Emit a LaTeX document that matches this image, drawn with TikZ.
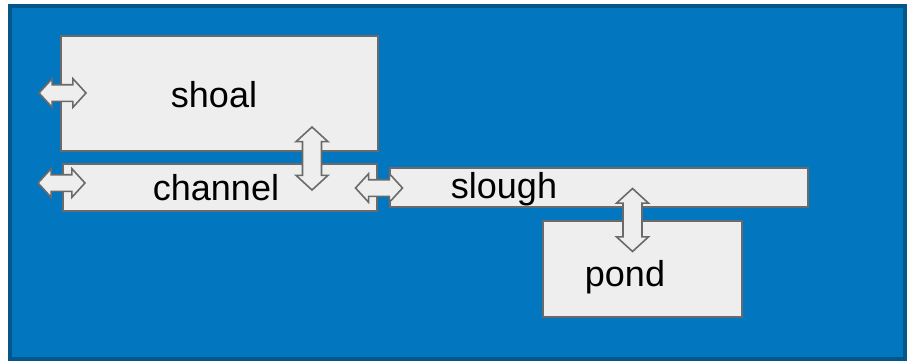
\documentclass[tikz,border=0pt]{standalone}
\usepackage{fontspec}
\setmainfont{Liberation Sans}
\usetikzlibrary{shapes.arrows}

\definecolor{panelblue}{HTML}{0276BE}
\definecolor{paneledge}{HTML}{05578A}
\definecolor{boxfill}{HTML}{EEEEEE}
\definecolor{boxedge}{HTML}{6A6A6A}

\tikzset{
  area/.style={draw=boxedge, fill=boxfill, line width=1.6pt, inner sep=0pt},
  lbl/.style={anchor=base, inner sep=0pt, font=\fontsize{36}{40}\selectfont},
  flow/.style={double arrow, draw=boxedge, fill=boxfill, line width=1.6pt,
    inner xsep=0pt, double arrow head extend=6pt, double arrow tip angle=95},
  hflow/.style={flow, inner ysep=7.5pt, minimum height=47pt, minimum width=28pt},
  vflow/.style={flow, inner ysep=8pt, minimum height=63pt, minimum width=32pt, rotate=90}
}

\begin{document}
\begin{tikzpicture}[x=1pt, y=-1pt]
                \useasboundingbox (0, 0) rectangle (907, 361);
                \draw[fill=panelblue, draw=paneledge, line width=4pt] (10, 6) rectangle (905, 359);

                \node[area, minimum width=317pt, minimum height=115pt] (shoal) at (219.5, 93.5) {};
                \node[area, minimum width=314pt, minimum height=47pt] (channel) at (220, 187.5) {};
                \node[area, minimum width=418pt, minimum height=39pt] (slough) at (599, 187.5) {};
                \node[area, minimum width=199pt, minimum height=96pt] (pond) at (642.5, 269) {};

                \node[lbl] (shoal text) at (214, 107) {shoal};
                \node[lbl] (channel text) at (216, 200) {channel};
                \node[lbl] (slough text) at (504, 198) {slough};
                \node[lbl] (pond text) at (625, 286) {pond};

                \node[hflow] (shoal in) at (62.5, 93) {};
                \node[hflow] (channel in) at (61.5, 183) {};
                \node[hflow] (channel slough) at (379, 188) {};
                \node[vflow] (shoal channel) at (312, 158.5) {};
                \node[vflow] (slough pond) at (632.5, 220) {};
\end{tikzpicture}
\end{document}
